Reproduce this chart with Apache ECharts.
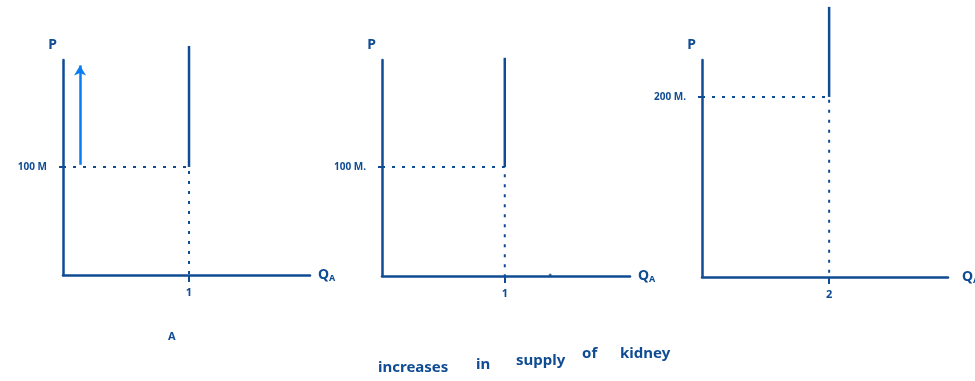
<!DOCTYPE html>
<html>
<head>
<meta charset="utf-8">
<script src="https://cdn.jsdelivr.net/npm/echarts@6/dist/echarts.min.js"></script>
<style>
  html, body { margin: 0; padding: 0; background: #fff; }
  #chart { width: 975px; height: 381px; }
</style>
</head>
<body>
<div id="chart"></div>
<script>
// three sketches: supply of kidneys is fixed (vertical), then shifts
const quantities = [1, 1, 2];
const prices = [100, 100, 200];
const supplyTops = [212, 200, 300];
const xMaxes = [1.96, 2.02, 3.87];
const yMaxes = [199, 198, 241];
const priceLabels = ['100 M', '100 M.', '200 M.'];
const qtyLabels = ['1', '1', '2'];
const qtyNames = ['Q', 'Q', 'Q'];
const qtySubs = ['A', 'A', 'A'];
// blue arrow in the first sketch (price going up)
const arrowFrom = [0.135, 102];
const arrowTo = [0.135, 194];
// stray dot on the second quantity axis
const strayDot = [[1.37, 1]];
const captionWords = ['increases', 'in', 'supply', 'of', 'kidney'];

const ink = '#0f4c93';
const font = '"Noto Sans", sans-serif';

const grids = [
  { left: 63, top: 60, width: 247, height: 215, outerBoundsMode: 'none' },
  { left: 382, top: 60, width: 248, height: 216, outerBoundsMode: 'none' },
  { left: 702, top: 60, width: 246, height: 217, outerBoundsMode: 'none' }
];
const qNameGaps = [8, 8, 14];

const xAxes = quantities.map(function (q, i) {
  return {
    type: 'value',
    gridIndex: i,
    min: 0,
    max: xMaxes[i],
    name: '{q|' + qtyNames[i] + '}{s|' + qtySubs[i] + '}',
    nameLocation: 'end',
    nameGap: qNameGaps[i],
    nameTextStyle: {
      rich: {
        q: { fontSize: 14, fontWeight: 'bold', color: ink, fontFamily: font },
        s: { fontSize: 9, fontWeight: 'bold', color: ink, fontFamily: font, padding: [6, 0, 0, 0] }
      }
    },
    axisLine: { show: true, lineStyle: { color: ink, width: 2.5 } },
    axisTick: { show: true, customValues: [q], length: 7, lineStyle: { color: ink, width: 2 } },
    axisLabel: {
      customValues: [q],
      formatter: function () { return qtyLabels[i]; },
      margin: 12,
      color: ink, fontSize: 11, fontWeight: 'bold', fontFamily: font
    },
    splitLine: { show: false }
  };
});

const yAxes = prices.map(function (p, i) {
  return {
    type: 'value',
    gridIndex: i,
    min: 0,
    max: yMaxes[i],
    name: 'P',
    nameLocation: 'end',
    nameGap: 8,
    nameTextStyle: { color: ink, fontSize: 14, fontWeight: 'bold', fontFamily: font, align: 'right', padding: [0, 6, 0, 0] },
    axisLine: { show: true, lineStyle: { color: ink, width: 2.5 } },
    axisTick: { show: true, customValues: [p], length: 4, lineStyle: { color: ink, width: 2 } },
    axisLabel: {
      customValues: [p],
      formatter: function () { return priceLabels[i]; },
      margin: 16,
      color: ink, fontSize: 10, fontWeight: 'bold', fontFamily: font
    },
    splitLine: { show: false }
  };
});

const series = [];
quantities.forEach(function (q, i) {
  // vertical supply line
  series.push({
    type: 'line',
    xAxisIndex: i,
    yAxisIndex: i,
    clip: false,
    symbol: 'none',
    silent: true,
    lineStyle: { color: ink, width: 2.5 },
    data: [[q, prices[i]], [q, supplyTops[i]]]
  });
  // dotted guides to the axes
  series.push({
    type: 'line',
    xAxisIndex: i,
    yAxisIndex: i,
    symbol: 'none',
    silent: true,
    lineStyle: { color: ink, width: 2, type: [3, 7] },
    data: [[0, prices[i]], [q, prices[i]], [q, 0]]
  });
});

series[0].markLine = {
  silent: true,
  symbol: ['none', 'arrow'],
  symbolSize: [9, 10],
  label: { show: false },
  lineStyle: { color: '#0a7cf2', width: 2.5, type: 'solid' },
  data: [[{ coord: arrowFrom }, { coord: arrowTo }]]
};

series.push({
  type: 'scatter',
  xAxisIndex: 1,
  yAxisIndex: 1,
  symbolSize: 3,
  silent: true,
  itemStyle: { color: ink },
  data: strayDot
});

// caption words sit on a slightly rising hand-written baseline
const captionPos = [[378, 360], [476, 357], [516, 353], [582, 346], [620, 346]];
const graphic = captionWords.map(function (w, k) {
  return {
    type: 'text',
    left: captionPos[k][0],
    top: captionPos[k][1],
    style: { text: w, fill: ink, font: 'bold 15px ' + font }
  };
});
graphic.push({
  type: 'text',
  left: 168,
  top: 331,
  style: { text: 'A', fill: ink, font: 'bold 11px ' + font }
});

const myChart = echarts.init(document.getElementById('chart'));
myChart.setOption({
  animation: false,
  grid: grids,
  xAxis: xAxes,
  yAxis: yAxes,
  series: series,
  graphic: graphic
});
</script>
</body>
</html>
